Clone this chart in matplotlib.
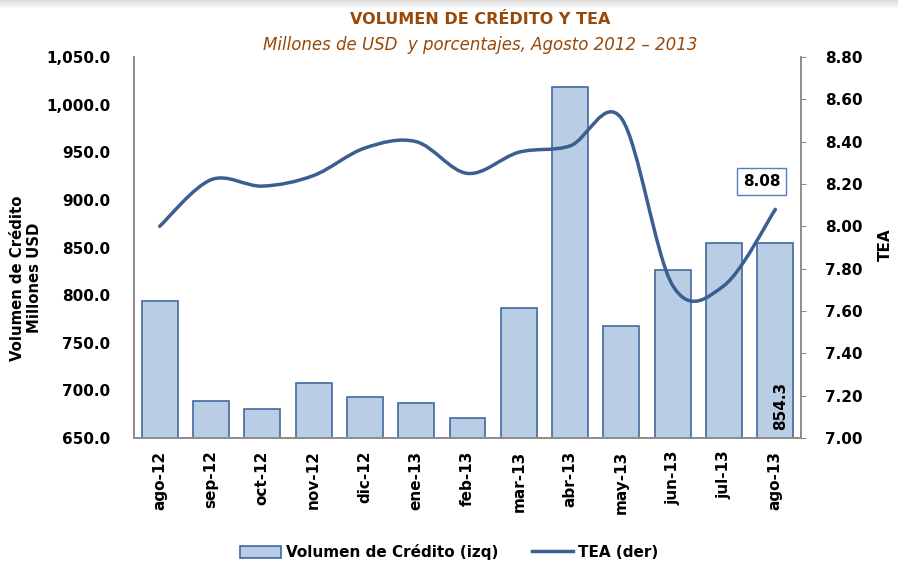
import matplotlib.pyplot as plt
import numpy as np
from matplotlib.path import Path
from matplotlib.patches import PathPatch, Patch
from matplotlib.lines import Line2D
from matplotlib.ticker import FuncFormatter

plt.rcParams['font.family'] = ['DejaVu Sans']

# datos
meses = ['ago-12', 'sep-12', 'oct-12', 'nov-12', 'dic-12', 'ene-13', 'feb-13',
         'mar-13', 'abr-13', 'may-13', 'jun-13', 'jul-13', 'ago-13']
volumen = [794, 689, 680, 708, 693, 687, 671, 787, 1019, 768, 826, 854.3, 854.3]
tea = [8.00, 8.22, 8.19, 8.24, 8.37, 8.40, 8.25, 8.35, 8.38, 8.51, 7.72, 7.72, 8.08]

c_barra = '#B9CDE5'
c_borde = '#41699E'
c_linea = '#3B5F92'
c_titulo = '#984807'
c_eje = '#8C8C8C'

fig = plt.figure(figsize=(8.98, 5.65), dpi=100)

# franja gris arriba
ax_top = fig.add_axes([0, 1 - 9 / 565, 1, 9 / 565])
grad = np.linspace(0.86, 1.0, 20).reshape(-1, 1)
ax_top.imshow(np.repeat(grad, 2, axis=1), cmap='gray', vmin=0, vmax=1,
              aspect='auto', extent=[0, 1, 0, 1])
ax_top.axis('off')

ax = fig.add_axes([134 / 898, 1 - 438 / 565, (801 - 134) / 898, (438 - 57) / 565])
x = np.arange(len(meses))
ax.bar(x, volumen, width=0.70, color=c_barra, edgecolor=c_borde, linewidth=1.2, zorder=2)
ax.set_xlim(-0.5, len(meses) - 0.5)
ax.set_ylim(650, 1050)
ax.set_yticks(np.arange(650, 1051, 50))
ax.yaxis.set_major_formatter(FuncFormatter(lambda v, p: f'{v:,.1f}'))
ax.set_xticks(x)
ax.set_xticklabels(meses, rotation=90, fontsize=11, fontweight='bold')
ax.tick_params(axis='x', length=0, pad=9)
ax.tick_params(axis='y', labelsize=11, length=0, pad=17)
for lbl in ax.get_yticklabels():
    lbl.set_fontweight('bold')
ax.spines['top'].set_visible(False)
for s in ['left', 'right', 'bottom']:
    ax.spines[s].set_color(c_eje)
    ax.spines[s].set_linewidth(1.2)

# etiqueta de la última barra
ax.annotate(f'{volumen[-1]:.1f}', xy=(x[-1], 650), xytext=(4, 6), textcoords='offset points',
            rotation=90, ha='center', va='bottom', fontsize=11, fontweight='bold')

ax2 = ax.twinx()
ax2.set_ylim(7.0, 8.8)
ax2.set_yticks(np.arange(7.0, 8.81, 0.2))
ax2.yaxis.set_major_formatter(FuncFormatter(lambda v, p: f'{v:.2f}'))
ax2.tick_params(axis='y', labelsize=11, length=3.6, color=c_eje, pad=13.5)
for lbl in ax2.get_yticklabels():
    lbl.set_fontweight('bold')
ax2.spines['top'].set_visible(False)
for s in ['left', 'right', 'bottom']:
    ax2.spines[s].set_color(c_eje)
    ax2.spines[s].set_linewidth(1.2)

# línea suavizada (curvas de Bézier como en Excel)
px = np.array(x, dtype=float)
py = np.array(tea, dtype=float)
n = len(px)
verts = [(px[0], py[0])]
codes = [Path.MOVETO]
for i in range(n - 1):
    i0 = max(i - 1, 0)
    i3 = min(i + 2, n - 1)
    c1 = (px[i] + (px[i + 1] - px[i0]) / 6, py[i] + (py[i + 1] - py[i0]) / 6)
    c2 = (px[i + 1] - (px[i3] - px[i]) / 6, py[i + 1] - (py[i3] - py[i]) / 6)
    verts += [c1, c2, (px[i + 1], py[i + 1])]
    codes += [Path.CURVE4] * 3
ax2.add_patch(PathPatch(Path(verts, codes), facecolor='none', edgecolor=c_linea,
                        linewidth=2.5, capstyle='round', zorder=3))

ax2.annotate(f'{tea[-1]:.2f}', xy=(x[-1], tea[-1]), xytext=(-10, 20), textcoords='offset points',
             ha='center', va='center', fontsize=11, fontweight='bold',
             bbox=dict(boxstyle='square,pad=0.4', facecolor='white', edgecolor='#4F81BD', linewidth=1))

# títulos
fig.text(480 / 898, 1 - 20 / 565, 'VOLUMEN DE CRÉDITO Y TEA', ha='center', va='center',
         fontsize=11.5, fontweight='bold', color=c_titulo)
fig.text(480 / 898, 1 - 45 / 565, 'Millones de USD  y porcentajes, Agosto 2012 – 2013',
         ha='center', va='center', fontsize=12, style='italic', color=c_titulo)

fig.text(26 / 898, 1 - 278 / 565, 'Volumen de Crédito\nMillones USD', rotation=90,
         ha='center', va='center', multialignment='center', fontsize=10.7, fontweight='bold',
         linespacing=1.1)
fig.text(885 / 898, 1 - 245 / 565, 'TEA', rotation=90, ha='center', va='center',
         fontsize=11, fontweight='bold')

handles = [Patch(facecolor=c_barra, edgecolor=c_borde, linewidth=1.2),
           Line2D([0], [0], color=c_linea, linewidth=2.5)]
fig.legend(handles, ['Volumen de Crédito (izq)', 'TEA (der)'], loc='center',
           bbox_to_anchor=(0.5, 1 - 552 / 565), ncol=2, frameon=False,
           prop={'size': 11, 'weight': 'bold'}, handlelength=2.7, handletextpad=0.3,
           columnspacing=2.2, handleheight=0.8)

fig.savefig('out.png', dpi=100)
